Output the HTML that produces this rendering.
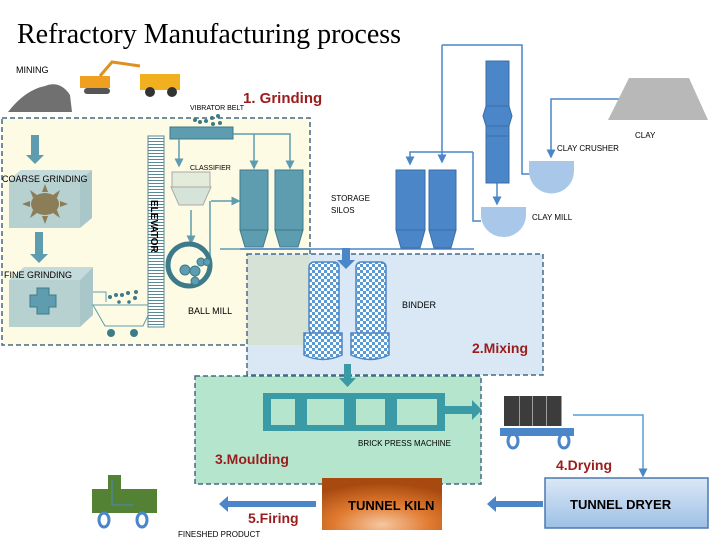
<!DOCTYPE html>
<html><head><meta charset="utf-8"><style>
html,body{margin:0;padding:0;background:#fff}
svg{display:block}
text{font-family:"Liberation Sans",sans-serif}
</style></head><body>
<svg width="720" height="540" viewBox="0 0 720 540" xmlns="http://www.w3.org/2000/svg">
<defs>
<pattern id="chk" width="6" height="6" patternUnits="userSpaceOnUse">
<rect width="6" height="6" fill="#fff"/><rect width="3" height="3" fill="#5b9bd5"/><rect x="3" y="3" width="3" height="3" fill="#5b9bd5"/>
</pattern>
<pattern id="el" width="4" height="3" patternUnits="userSpaceOnUse"><rect width="4" height="3" fill="#fff"/><rect width="4" height="1" fill="#5a8a96"/></pattern>
<radialGradient id="kiln" cx="0.5" cy="0.9" r="0.8"><stop offset="0" stop-color="#f6c7a0"/><stop offset="0.5" stop-color="#e07a30"/><stop offset="1" stop-color="#a84a10"/></radialGradient>
<linearGradient id="dry" x1="0" y1="0" x2="0" y2="1"><stop offset="0" stop-color="#dbe8f6"/><stop offset="1" stop-color="#9dc0e6"/></linearGradient>
<marker id="ah" markerWidth="6" markerHeight="6" refX="5" refY="3" orient="auto"><path d="M0,0 L6,3 L0,6Z" fill="#5e9cb0"/></marker>
<marker id="ab" markerWidth="6" markerHeight="6" refX="5" refY="3" orient="auto"><path d="M0,0 L6,3 L0,6Z" fill="#4a86c8"/></marker>
</defs>
<text x="17" y="43" font-size="28" style="font-family:'Liberation Serif',serif">Refractory Manufacturing process</text>
<text x="16" y="73" font-size="9">MINING</text>
<path d="M8,112 Q25,90 45,86 Q60,80 70,95 L72,112Z" fill="#707070"/>
<rect x="80" y="76" width="30" height="12" fill="#f0a020"/><rect x="84" y="88" width="26" height="6" rx="3" fill="#555"/>
<path d="M100,76 L112,62 L140,66" stroke="#e09020" stroke-width="3" fill="none"/>
<rect x="140" y="74" width="40" height="16" fill="#f0b020"/><circle cx="150" cy="92" r="5" fill="#333"/><circle cx="172" cy="92" r="5" fill="#333"/>
<text x="190" y="110" font-size="7">VIBRATOR BELT</text>
<text x="243" y="103" font-size="15" font-weight="bold" fill="#9b1c1c">1. Grinding</text>
<rect x="2" y="118" width="308" height="227" fill="#fdfbe4" stroke="#456a86" stroke-width="1.5" stroke-dasharray="5,3"/>
<rect x="247" y="254" width="296" height="121" fill="#dae8f5" stroke="#456a86" stroke-width="1.5" stroke-dasharray="5,3"/>
<rect x="248" y="255" width="62" height="90" fill="#d6e2d6"/>
<rect x="195" y="376" width="286" height="108" fill="#b5e5cd" stroke="#456a86" stroke-width="1.5" stroke-dasharray="5,3"/>
<path d="M31,135 h8 v20 h5 l-9,9 l-9,-9 h5z" fill="#5e9cb0"/>
<path d="M35,232 h8 v22 h5 l-9,9 l-9,-9 h5z" fill="#5e9cb0"/>
<path d="M9,180 L21,170 L92,170 L80,180Z" fill="#c5dada"/><path d="M80,180 L92,170 L92,218 L80,228Z" fill="#a9c7c9"/>
<rect x="9" y="180" width="71" height="48" fill="#b7d1d1"/>
<g fill="#8b7d57"><ellipse cx="45" cy="204" rx="14" ry="11"/>
<path d="M45,184 l3,8 h-6z M45,224 l3,-8 h-6z M22,204 l8,3 v-6z M68,204 l-8,3 v-6z M30,190 l7,5 l-4,3z M60,190 l-7,5 l4,3z M30,218 l7,-5 l-4,-3z M60,218 l-7,-5 l4,-3z"/></g>
<text x="2" y="182" font-size="9">COARSE GRINDING</text>
<path d="M9,280 L24,267 L93,267 L80,280Z" fill="#c5dada"/><path d="M80,280 L93,267 L93,315 L80,327Z" fill="#a9c7c9"/>
<rect x="9" y="280" width="71" height="47" fill="#b7d1d1"/>
<path d="M37,288 h12 v7 h7 v12 h-7 v7 h-12 v-7 h-7 v-12 h7z" fill="#5e9cb0" stroke="#3d7a8a"/>
<text x="4" y="278" font-size="9">FINE GRINDING</text>
<path d="M93,292 h13 v10" stroke="#5e9cb0" fill="none"/>
<path d="M93,305 L153,305 L143,326 L105,326Z" fill="none" stroke="#5e9cb0"/>
<circle cx="111" cy="333" r="4" fill="#3d7a8a"/><circle cx="134" cy="333" r="4" fill="#3d7a8a"/>
<g fill="#3d7a8a"><circle cx="110" cy="297" r="2"/><circle cx="116" cy="295" r="2"/><circle cx="122" cy="295" r="2"/><circle cx="128" cy="293" r="2"/><circle cx="135" cy="298" r="2"/><circle cx="119" cy="302" r="1.8"/><circle cx="129" cy="302" r="1.8"/><circle cx="136" cy="292" r="2"/></g>
<rect x="148" y="136" width="16" height="191" fill="url(#el)" stroke="#5a8a96"/>
<text transform="translate(151,200) rotate(90)" font-size="10" font-weight="bold">ELEVATOR</text>
<rect x="170" y="127" width="63" height="12" fill="#5e9cb0" stroke="#3d7a8a"/>
<g fill="#3d7a8a"><circle cx="195" cy="120" r="2"/><circle cx="200" cy="122" r="2"/><circle cx="206" cy="121" r="2"/><circle cx="212" cy="118" r="2"/><circle cx="218" cy="116" r="2"/><circle cx="213" cy="124" r="2"/><circle cx="220" cy="123" r="2"/></g>
<g stroke="#5e9cb0" stroke-width="1.5" fill="none">
<path d="M179,139 V166" marker-end="url(#ah)"/>
<path d="M233,134 H290 V168" marker-end="url(#ah)"/>
<path d="M254,134 V168" marker-end="url(#ah)"/>
<path d="M211,201 H239" marker-end="url(#ah)"/>
<path d="M210,201 V265"/>
<path d="M191,210 V243" marker-end="url(#ah)"/>
<path d="M220,249 H310"/>
</g>
<text x="190" y="170" font-size="7">CLASSIFIER</text>
<path d="M172,172 h38 v15 h-38z" fill="#e3ebd9" stroke="#aaa"/>
<path d="M171,187 h40 l-8,18 h-24z" fill="#d6e3d8" stroke="#aaa"/>
<g fill="#5e9cb0" stroke="#3d7a8a"><rect x="240" y="170" width="28" height="60"/><path d="M240,230 h28 l-5,17 h-18z"/><rect x="275" y="170" width="28" height="60"/><path d="M275,230 h28 l-5,17 h-18z"/></g>
<circle cx="189" cy="265" r="21" fill="none" stroke="#3d7a8a" stroke-width="5"/>
<g fill="#5e9cb0" stroke="#3d7a8a"><circle cx="185" cy="270" r="5"/><circle cx="195" cy="271" r="5"/><circle cx="201" cy="262" r="4"/><circle cx="195" cy="281" r="4"/><circle cx="207" cy="262" r="3.5"/></g>
<text x="188" y="314" font-size="9">BALL MILL</text>
<text x="331" y="201" font-size="8">STORAGE</text><text x="331" y="213" font-size="8">SILOS</text>
<path d="M342,248 h8 v12 h5 l-9,9 l-9,-9 h5z" fill="#4a86c8"/>
<g fill="url(#chk)" stroke="#4a86c8" stroke-width="1.5">
<rect x="309" y="262" width="30" height="72" rx="5"/><path d="M304,333 h38 v22 q-19,9 -38,0z"/>
<rect x="356" y="262" width="30" height="72" rx="5"/><path d="M351,333 h38 v22 q-19,9 -38,0z"/>
</g>
<text x="402" y="308" font-size="9">BINDER</text>
<text x="472" y="353" font-size="14" font-weight="bold" fill="#9b1c1c">2.Mixing</text>
<path d="M344,364 h7 v14 h5 l-8.5,9 l-8.5,-9 h5z" fill="#3a9aa5"/>
<g stroke="#4a86c8" stroke-width="1.5" fill="none">
<path d="M442,45 V162" marker-end="url(#ab)"/>
<path d="M442,45 H522 V174 H530"/>
<path d="M473,152 H410 V164" marker-end="url(#ab)"/>
<path d="M473,152 V221 H481"/>
<path d="M497,183 V204" marker-end="url(#ab)"/>
<path d="M619,99 H551 V157" marker-end="url(#ab)"/>
<path d="M240,249 H474"/>
</g>
<g fill="#4a86c8" stroke="#3a6fa8"><rect x="396" y="170" width="29" height="60"/><path d="M396,230 h29 l-5,18 h-19z"/><rect x="429" y="170" width="27" height="60"/><path d="M429,230 h27 l-5,18 h-17z"/>
<rect x="486" y="61" width="23" height="45"/><path d="M486,106 l-3,10 l3,10 h23 l3,-10 l-3,-10z"/><rect x="486" y="136" width="23" height="47"/><path d="M486,126 h23 v10 h-23z"/></g>
<path d="M529,161 h45 v10 a22,22 0 0 1 -45,0z" fill="#a9c8e9"/>
<path d="M481,207 h45 v8 a22.5,22 0 0 1 -45,0z" fill="#a9c8e9"/>
<path d="M629,78 H689 L708,120 H608Z" fill="#b8b8b8"/>
<text x="635" y="138" font-size="8">CLAY</text>
<text x="557" y="151" font-size="8">CLAY CRUSHER</text>
<text x="532" y="220" font-size="8">CLAY MILL</text>
<rect x="263" y="393" width="182" height="38" fill="#3a9aa5"/>
<rect x="271" y="399" width="166" height="26" fill="#b5e5cd"/>
<rect x="295" y="397" width="12" height="30" fill="#3a9aa5"/><rect x="344" y="397" width="12" height="30" fill="#3a9aa5"/><rect x="385" y="397" width="12" height="30" fill="#3a9aa5"/>
<path d="M445,406 h27 v-6 l10,10 l-10,10 v-6 h-27z" fill="#3a9aa5"/>
<text x="358" y="446" font-size="8">BRICK PRESS MACHINE</text>
<text x="215" y="464" font-size="14" font-weight="bold" fill="#9b1c1c">3.Moulding</text>
<g fill="#3c3c3c"><rect x="504" y="396" width="15" height="30"/><rect x="519.5" y="396" width="13" height="30"/><rect x="533" y="396" width="13" height="30"/><rect x="546.5" y="396" width="15" height="30"/></g>
<rect x="500" y="428" width="74" height="8" fill="#4a86c8"/>
<ellipse cx="513" cy="441" rx="5" ry="7" fill="none" stroke="#4a86c8" stroke-width="3"/><ellipse cx="564" cy="441" rx="5" ry="7" fill="none" stroke="#4a86c8" stroke-width="3"/>
<path d="M573,415 H643 V476" stroke="#5b9bd5" stroke-width="1.5" fill="none" marker-end="url(#ab)"/>
<text x="556" y="470" font-size="14" font-weight="bold" fill="#9b1c1c">4.Drying</text>
<rect x="545" y="478" width="163" height="50" fill="url(#dry)" stroke="#4a7ab0" stroke-width="1.5"/>
<text x="570" y="509" font-size="13" font-weight="bold">TUNNEL DRYER</text>
<rect x="322" y="478" width="120" height="52" fill="url(#kiln)"/>
<text x="348" y="510" font-size="13" font-weight="bold">TUNNEL KILN</text>
<path d="M543,501 H496 v-5 l-9,8 l9,8 v-5 H543z" fill="#4a86c8"/>
<path d="M316,501 H228 v-5 l-9,8 l9,8 v-5 H316z" fill="#4a86c8"/>
<text x="248" y="523" font-size="14" font-weight="bold" fill="#9b1c1c">5.Firing</text>
<text x="178" y="537" font-size="8">FINESHED PRODUCT</text>
<rect x="108" y="475" width="13" height="14" fill="#548235"/>
<rect x="92" y="489" width="65" height="24" fill="#548235"/>
<path d="M112,480 V505 H133" stroke="#4a86c8" fill="none"/>
<ellipse cx="104" cy="520" rx="5" ry="7" fill="none" stroke="#4a86c8" stroke-width="3"/><ellipse cx="142" cy="520" rx="5" ry="7" fill="none" stroke="#4a86c8" stroke-width="3"/>
</svg>
</body></html>
